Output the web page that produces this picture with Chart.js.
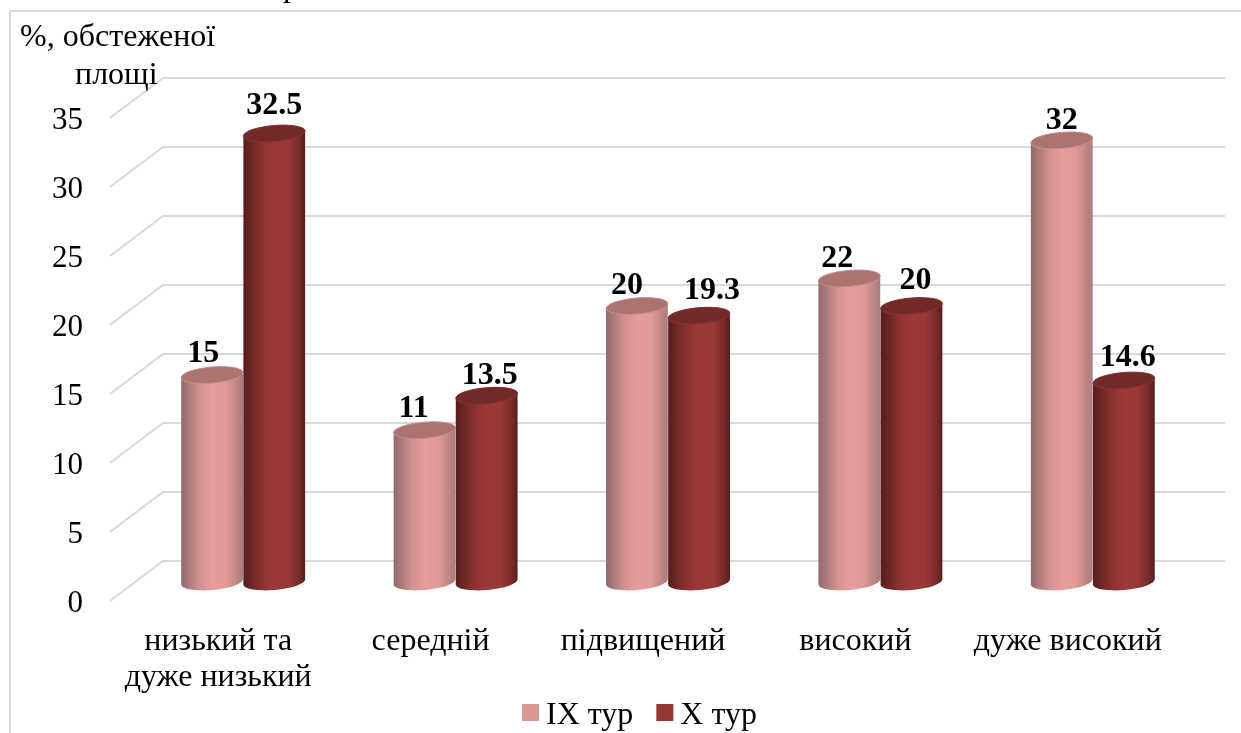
<!DOCTYPE html>
<html>
<head>
<meta charset="utf-8">
<style>
  html, body { margin: 0; padding: 0; background: #fff; }
  canvas { display: block; }
</style>
</head>
<body>
<canvas id="chart" width="1241" height="733"></canvas>
<script src="https://cdn.jsdelivr.net/npm/chart.js@4/dist/chart.umd.min.js"></script>
<script>
const categories = [["низький та", "дуже низький"], "середній", "підвищений", "високий", "дуже високий"];
const tour9 = [15, 11, 20, 22, 32];
const tour10 = [32.5, 13.5, 19.3, 20, 14.6];
const seriesNames = ["IX тур", "X тур"];

// hand nudges for the value labels, they dodge each other in the original
const nudgeX = [[-9, -11, -10, -12, 0], [0, 3, 13, 4, 4]];
const nudgeY = [[-21, -21, -20, -20, -20], [-28, -20, -25, -25, -23]];

const FONT = "'Liberation Serif', serif";
const GRID = "#d9d9d9";

// fake 3d depth of the plot
const wallX = 53, wallY = -40;   // back wall, relative to the front tick
const barX = 25, barY = -19;     // cylinders stand in the middle of the floor
const rimRx = 31, rimRy = 8, tilt = -0.085;

const looks = [
  { stops: [[0, "#8f6a69"], [0.3, "#d29190"], [0.5, "#e69d9c"], [0.72, "#e29a99"], [0.9, "#bd8584"], [1, "#a87c7b"]], cap: "#ab7372", rim: "#c98c8b" },
  { stops: [[0, "#551e1d"], [0.3, "#8a3231"], [0.5, "#9d3938"], [0.72, "#9a3837"], [0.9, "#772b2a"], [1, "#551d1c"]], cap: "#722a29", rim: "#8a3231" }
];

function drawCylinder(ctx, bar, look) {
  const cx = bar.x + barX, top = bar.y + barY, bottom = bar.base + barY;
  const rx = rimRx;
  const g = ctx.createLinearGradient(cx - rx, 0, cx + rx, 0);
  look.stops.forEach(s => g.addColorStop(s[0], s[1]));

  ctx.beginPath();
  ctx.ellipse(cx, bottom, rx, rimRy, tilt, 0, Math.PI);
  ctx.ellipse(cx, top, rx, rimRy, tilt, Math.PI, Math.PI * 2);
  ctx.closePath();
  ctx.fillStyle = g;
  ctx.fill();

  ctx.beginPath();
  ctx.ellipse(cx, top, rx, rimRy, tilt, 0, Math.PI * 2);
  ctx.fillStyle = look.cap;
  ctx.fill();
  ctx.strokeStyle = look.rim;
  ctx.lineWidth = 1;
  ctx.stroke();
}

const cylinders = {
  id: "cylinders",
  beforeDatasetsDraw(chart) {
    const ctx = chart.ctx, y = chart.scales.y, area = chart.chartArea;
    ctx.save();

    // outer frame
    ctx.strokeStyle = GRID;
    ctx.lineWidth = 2;
    ctx.beginPath();
    ctx.moveTo(10, 733);
    ctx.lineTo(10, 11);
    ctx.lineTo(1241, 11);
    ctx.stroke();

    // side wall + back wall lines
    y.ticks.forEach(t => {
      const py = y.getPixelForValue(t.value);
      ctx.beginPath();
      ctx.moveTo(area.left - 2, py);
      ctx.lineTo(area.left + wallX - 2, py + wallY);
      ctx.lineTo(area.right + wallX - 2, py + wallY);
      ctx.stroke();
    });

    // cut off caption letter at the very top + axis caption
    ctx.fillStyle = "#000";
    ctx.font = "32px " + FONT;
    ctx.textBaseline = "alphabetic";
    ctx.textAlign = "left";
    ctx.fillText("р", 283, -4);
    ctx.fillText("%, обстеженої", 20, 46);
    ctx.fillText("площі", 75, 84);

    // bars
    chart.data.datasets.forEach((ds, i) => {
      chart.getDatasetMeta(i).data.forEach(bar => drawCylinder(ctx, bar, looks[i]));
    });
    ctx.restore();
  },
  beforeDatasetDraw() {
    return false; // flat bars replaced by the cylinders above
  },
  afterDatasetsDraw(chart) {
    const ctx = chart.ctx;
    ctx.save();
    ctx.fillStyle = "#000";
    ctx.font = "bold 32px " + FONT;
    ctx.textAlign = "center";
    ctx.textBaseline = "middle";
    chart.data.datasets.forEach((ds, i) => {
      chart.getDatasetMeta(i).data.forEach((bar, j) => {
        ctx.fillText(String(ds.data[j]), bar.x + barX + nudgeX[i][j], bar.y + barY + nudgeY[i][j]);
      });
    });

    // legend by hand, the built in one spaces box and text too wide
    ctx.font = "32px " + FONT;
    ctx.textAlign = "left";
    ctx.textBaseline = "alphabetic";
    let lx = 522;
    chart.data.datasets.forEach(ds => {
      ctx.fillStyle = ds.backgroundColor;
      ctx.fillRect(lx, 704, 17, 17);
      ctx.fillStyle = "#000";
      ctx.fillText(ds.label, lx + 24, 724);
      lx += 24 + ctx.measureText(ds.label).width + 23;
    });
    ctx.restore();
  }
};

new Chart(document.getElementById("chart"), {
  type: "bar",
  data: {
    labels: categories,
    datasets: [
      { label: seriesNames[0], data: tour9, backgroundColor: "#d99694", barPercentage: 1, categoryPercentage: 0.585 },
      { label: seriesNames[1], data: tour10, backgroundColor: "#953735", barPercentage: 1, categoryPercentage: 0.585 }
    ]
  },
  plugins: [cylinders],
  options: {
    responsive: false,
    animation: false,
    layout: { padding: { top: 118, right: 67, bottom: 0, left: 0 } },
    plugins: {
      tooltip: { enabled: false },
      legend: { display: false }
    },
    scales: {
      x: {
        grid: { display: false },
        border: { display: false },
        ticks: { color: "#000", font: { family: FONT, size: 32, lineHeight: 1.125 }, maxRotation: 0, padding: 15 },
        afterFit(scale) { scale.height = 132; }
      },
      y: {
        min: 0,
        max: 35,
        grid: { display: false },
        border: { display: false },
        ticks: { stepSize: 5, color: "#000", font: { family: FONT, size: 31 }, padding: 21, labelOffset: 3 },
        afterFit(scale) { scale.width = 112; }
      }
    }
  }
});
</script>
</body>
</html>
